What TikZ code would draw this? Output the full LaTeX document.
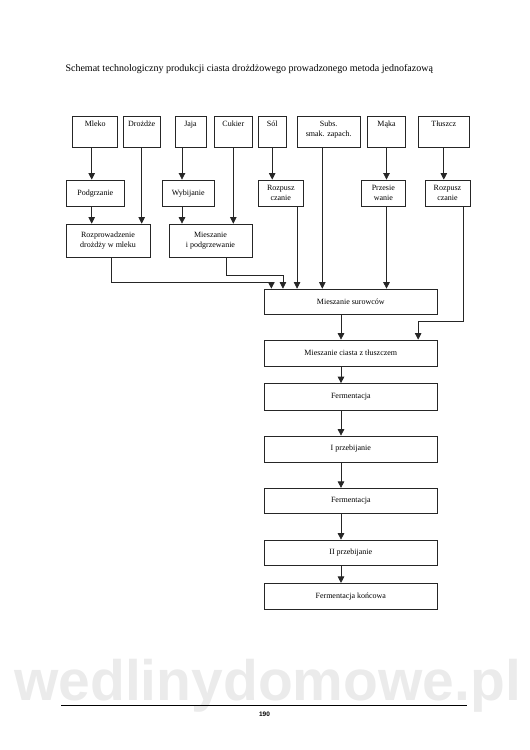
\documentclass[tikz,border=0pt]{standalone}
\usepackage{fontspec}
\setmainfont{Liberation Serif}
\newfontfamily\znakfont{Liberation Sans}
\usetikzlibrary{calc,arrows.meta,positioning}
\tikzset{
	krok/.style={draw=black!85,line width=0.7pt,rectangle,inner sep=1pt,align=center,font=\fontsize{8}{10}\selectfont},
	surowiec/.style={krok,minimum height=31pt,label={[anchor=north,inner sep=0pt,yshift=-5pt,align=center,font=\fontsize{8}{10}\selectfont]north:#1}},
	obrobka/.style={krok,minimum height=26.7pt},
	glowny/.style={krok,minimum width=173pt},
	pol/.style={-{Triangle[length=6.5pt,width=6.5pt]},draw=black!85,line width=0.7pt}
}

\begin{document}
\begin{tikzpicture}[x=1pt,y=-1pt]
				\path[use as bounding box]
				(0,0) rectangle (530,750);
				% znak wodny
				\node[anchor=base,text=black!8,text depth=0pt,inner sep=0pt,font=\znakfont\bfseries\fontsize{57}{60}\selectfont] (znak) at (267.5,700.5) {wedlinydomowe.pl};
				\node[anchor=west,font=\fontsize{10}{12}\selectfont] (tytul) at (62,69) {Schemat technologiczny produkcji ciasta drożdżowego prowadzonego metoda jednofazową};
				% surowce
				\node[surowiec=Mleko,minimum width=45pt] (mleko) at (95.2,131.5) {};
				\node[surowiec=Drożdże,minimum width=36.7pt] (drozdze) at (141.7,131.5) {};
				\node[surowiec=Jaja,minimum width=31pt] (jaja) at (190.5,131.5) {};
				\node[surowiec=Cukier,minimum width=38pt] (cukier) at (233.3,131.5) {};
				\node[surowiec=Sól,minimum width=27.7pt] (sol) at (272.2,131.5) {};
				\node[surowiec={Subs.\\smak. zapach.},minimum width=62.7pt] (subs) at (328.7,131.5) {};
				\node[surowiec=Mąka,minimum width=38.4pt] (maka) at (386.5,131.5) {};
				\node[surowiec=Tłuszcz,minimum width=51pt] (tluszcz) at (443.8,131.5) {};
				% obrobka wstepna
				\node[obrobka,minimum width=57.3pt] (podgrz) at (95.3,193.3) {Podgrzanie};
				\node[obrobka,minimum width=51.3pt] (wybij) at (188.3,193.3) {Wybijanie};
				\node[obrobka,minimum width=45pt] (rozpsol) at (280.8,193.3) {Rozpusz\\czanie};
				\node[obrobka,minimum width=44.7pt] (przesiew) at (383.3,193.3) {Przesie\\wanie};
				\node[obrobka,minimum width=45pt] (rozptl) at (447.5,193.3) {Rozpusz\\czanie};
				\node[krok,minimum width=84pt,minimum height=33pt] (rozprow) at (108,240.5) {Rozprowadzenie\\drożdży w mleku};
				\node[krok,minimum width=83pt,minimum height=33pt] (mieszpodg) at (210.5,240.5) {Mieszanie\\i podgrzewanie};
				% ciag glowny
				\node[glowny,minimum height=25pt] (mieszsur) at (350.8,301.5) {Mieszanie surowców};
				\node[glowny,minimum height=26pt] (mieszciasto) at (350.8,353) {Mieszanie ciasta z tłuszczem};
				\node[glowny,minimum height=27pt] (ferm1) at (350.8,397) {Fermentacja};
				\node[glowny,minimum height=26pt] (przeb1) at (350.8,449) {I przebijanie};
				\node[glowny,minimum height=25.5pt] (ferm2) at (350.8,501) {Fermentacja};
				\node[glowny,minimum height=25pt] (przeb2) at (350.8,552.5) {II przebijanie};
				\node[glowny,minimum height=26pt] (fermkon) at (350.8,596.3) {Fermentacja końcowa};
				% punkty pomocnicze
				\coordinate (mlekox) at ([xshift=-3.5pt]mleko.south);
				\coordinate (jajax) at ([xshift=-8.5pt]jaja.south);
				\coordinate (subsx) at ([xshift=-6.4pt]subs.south);
				\coordinate (solx) at ([xshift=-6.6pt]rozpsol.south east);
				\coordinate (tlx) at ([xshift=-6.7pt]rozptl.south east);
				\coordinate (wej1) at ([xshift=7.4pt]mieszsur.north west);
				\coordinate (wej2) at ([xshift=19pt]mieszsur.north west);
				\coordinate (wejtl) at ([xshift=-19.5pt]mieszciasto.north east);
				% polaczenia
				\draw[pol] (mlekox) -- (mlekox |- podgrz.north);
				\draw[pol] (mlekox |- podgrz.south) -- (mlekox |- rozprow.north);
				\draw[pol] (drozdze.south) -- (drozdze.south |- rozprow.north);
				\draw[pol] (jajax) -- (jajax |- wybij.north);
				\draw[pol] (jajax |- wybij.south) -- (jajax |- mieszpodg.north);
				\draw[pol] (cukier.south) -- (cukier.south |- mieszpodg.north);
				\draw[pol] (sol.south) -- (sol.south |- rozpsol.north);
				\draw[pol] (solx) -- (solx |- mieszsur.north);
				\draw[pol] (subsx) -- (subsx |- mieszsur.north);
				\draw[pol] (maka.south) -- (maka.south |- przesiew.north);
				\draw[pol] (maka.south |- przesiew.south) -- (maka.south |- mieszsur.north);
				\draw[pol] (tluszcz.south) -- (tluszcz.south |- rozptl.north);
				\draw[pol] ([xshift=3pt]rozprow.south) |- ([yshift=6pt]wej1) -- (wej1);
				\draw[pol] ([xshift=15.5pt]mieszpodg.south) |- ([yshift=13.3pt]wej2) -- (wej2);
				\draw[pol] (tlx) -- ++(0,114.7) -| (wejtl);
				\foreach \a/\b in {mieszsur/mieszciasto,mieszciasto/ferm1,ferm1/przeb1,przeb1/ferm2,ferm2/przeb2,przeb2/fermkon}
					\draw[pol] ([xshift=-9.8pt]\a.south) -- ([xshift=-9.8pt]\b.north);
				% stopka
				\coordinate (stopkal) at (61,705.3);
				\coordinate (stopkap) at (467.3,705.3);
				\draw[line width=0.6pt] (stopkal) -- (stopkap);
				\node[font=\znakfont\bfseries\fontsize{6.5}{8}\selectfont] (strona) at (264.5,714) {190};
			\end{tikzpicture}
\end{document}
